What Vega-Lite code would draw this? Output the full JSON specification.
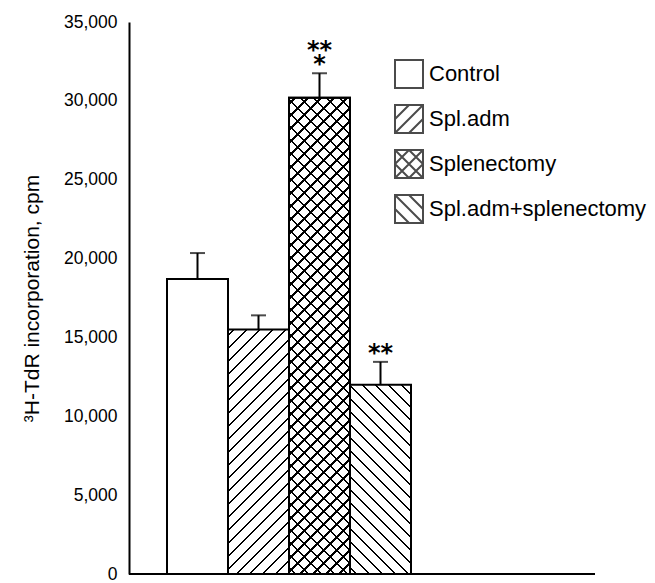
{
"$schema": "https://vega.github.io/schema/vega-lite/v6.json",
"width": 466,
"height": 552,
"autosize": {"type": "none"},
"padding": {"left": 129, "top": 22, "right": 60, "bottom": 9},
"background": "white",
"config": {"view": {"stroke": null}, "font": "Liberation Sans"},
"data": {"values": [
  {"group": "Control", "value": 18700, "hi": 20350, "sig": ""},
  {"group": "Spl.adm", "value": 15500, "hi": 16400, "sig": ""},
  {"group": "Splenectomy", "value": 30200, "hi": 31750, "sig": "**\n*"},
  {"group": "Spl.adm+splenectomy", "value": 12000, "hi": 13450, "sig": "\n**"}
]},
"encoding": {
  "y": {"field": "value", "type": "quantitative",
    "scale": {"domain": [0, 35000], "nice": false},
    "axis": {"title": "³H-TdR incorporation, cpm", "values": [0, 5000, 10000, 15000, 20000, 25000, 30000, 35000], "format": ",d", "ticks": false, "grid": false, "domainColor": "black", "domainWidth": 2, "labelFont": "Liberation Sans", "labelFontSize": 17.5, "labelColor": "black", "labelPadding": 12, "titleFont": "Liberation Sans", "titleFontSize": 21, "titleFontWeight": "normal", "titleColor": "black", "titlePadding": 21}}
},
"layer": [
  {"transform": [{"filter": "datum.group === 'Control'"}],
   "mark": {"type": "bar", "fill": "white", "stroke": "black", "strokeWidth": 2},
   "encoding": {"x": {"field": "group", "type": "nominal",
    "scale": {"domain": ["Control", "Spl.adm", "Splenectomy", "Spl.adm+splenectomy"], "range": [38, 282], "paddingInner": 0, "paddingOuter": 0},
    "axis": null}}},
  {"transform": [{"filter": "datum.group === 'Spl.adm'"}],
   "encoding": {"x": {"field": "group", "type": "nominal"}},
   "mark": {"type": "bar", "stroke": "black", "strokeWidth": 2,
    "fill": {"gradient": "linear", "x1": 0, "y1": 0, "x2": 0.2998, "y2": 1.2015, "stops": [
{"offset":0.0167,"color":"#fff"},{"offset":0.0167,"color":"#000"},{"offset":0.0238,"color":"#000"},{"offset":0.0238,"color":"#fff"},
{"offset":0.0583,"color":"#fff"},{"offset":0.0583,"color":"#000"},{"offset":0.0654,"color":"#000"},{"offset":0.0654,"color":"#fff"},
{"offset":0.1,"color":"#fff"},{"offset":0.1,"color":"#000"},{"offset":0.1071,"color":"#000"},{"offset":0.1071,"color":"#fff"},
{"offset":0.1417,"color":"#fff"},{"offset":0.1417,"color":"#000"},{"offset":0.1488,"color":"#000"},{"offset":0.1488,"color":"#fff"},
{"offset":0.1833,"color":"#fff"},{"offset":0.1833,"color":"#000"},{"offset":0.1904,"color":"#000"},{"offset":0.1904,"color":"#fff"},
{"offset":0.225,"color":"#fff"},{"offset":0.225,"color":"#000"},{"offset":0.2321,"color":"#000"},{"offset":0.2321,"color":"#fff"},
{"offset":0.2667,"color":"#fff"},{"offset":0.2667,"color":"#000"},{"offset":0.2738,"color":"#000"},{"offset":0.2738,"color":"#fff"},
{"offset":0.3083,"color":"#fff"},{"offset":0.3083,"color":"#000"},{"offset":0.3154,"color":"#000"},{"offset":0.3154,"color":"#fff"},
{"offset":0.35,"color":"#fff"},{"offset":0.35,"color":"#000"},{"offset":0.3571,"color":"#000"},{"offset":0.3571,"color":"#fff"},
{"offset":0.3917,"color":"#fff"},{"offset":0.3917,"color":"#000"},{"offset":0.3988,"color":"#000"},{"offset":0.3988,"color":"#fff"},
{"offset":0.4333,"color":"#fff"},{"offset":0.4333,"color":"#000"},{"offset":0.4404,"color":"#000"},{"offset":0.4404,"color":"#fff"},
{"offset":0.475,"color":"#fff"},{"offset":0.475,"color":"#000"},{"offset":0.4821,"color":"#000"},{"offset":0.4821,"color":"#fff"},
{"offset":0.5167,"color":"#fff"},{"offset":0.5167,"color":"#000"},{"offset":0.5238,"color":"#000"},{"offset":0.5238,"color":"#fff"},
{"offset":0.5583,"color":"#fff"},{"offset":0.5583,"color":"#000"},{"offset":0.5654,"color":"#000"},{"offset":0.5654,"color":"#fff"},
{"offset":0.6,"color":"#fff"},{"offset":0.6,"color":"#000"},{"offset":0.6071,"color":"#000"},{"offset":0.6071,"color":"#fff"},
{"offset":0.6417,"color":"#fff"},{"offset":0.6417,"color":"#000"},{"offset":0.6488,"color":"#000"},{"offset":0.6488,"color":"#fff"},
{"offset":0.6833,"color":"#fff"},{"offset":0.6833,"color":"#000"},{"offset":0.6904,"color":"#000"},{"offset":0.6904,"color":"#fff"},
{"offset":0.725,"color":"#fff"},{"offset":0.725,"color":"#000"},{"offset":0.7321,"color":"#000"},{"offset":0.7321,"color":"#fff"},
{"offset":0.7667,"color":"#fff"},{"offset":0.7667,"color":"#000"},{"offset":0.7738,"color":"#000"},{"offset":0.7738,"color":"#fff"},
{"offset":0.8083,"color":"#fff"},{"offset":0.8083,"color":"#000"},{"offset":0.8154,"color":"#000"},{"offset":0.8154,"color":"#fff"},
{"offset":0.85,"color":"#fff"},{"offset":0.85,"color":"#000"},{"offset":0.8571,"color":"#000"},{"offset":0.8571,"color":"#fff"},
{"offset":0.8917,"color":"#fff"},{"offset":0.8917,"color":"#000"},{"offset":0.8988,"color":"#000"},{"offset":0.8988,"color":"#fff"},
{"offset":0.9333,"color":"#fff"},{"offset":0.9333,"color":"#000"},{"offset":0.9404,"color":"#000"},{"offset":0.9404,"color":"#fff"},
{"offset":0.975,"color":"#fff"},{"offset":0.975,"color":"#000"},{"offset":0.9821,"color":"#000"},{"offset":0.9821,"color":"#fff"}
    ]}}},
  {"transform": [{"filter": "datum.group === 'Splenectomy'"}],
   "encoding": {"x": {"field": "group", "type": "nominal"}},
   "mark": {"type": "bar", "stroke": "black", "strokeWidth": 2,
    "fill": {"gradient": "linear", "x1": 0, "y1": 0, "x2": 0.14445, "y2": 1.12786, "stops": [
{"offset":0.0095,"color":"#fff"},{"offset":0.0095,"color":"#000"},{"offset":0.0136,"color":"#000"},{"offset":0.0136,"color":"#fff"},
{"offset":0.0333,"color":"#fff"},{"offset":0.0333,"color":"#000"},{"offset":0.0374,"color":"#000"},{"offset":0.0374,"color":"#fff"},
{"offset":0.0571,"color":"#fff"},{"offset":0.0571,"color":"#000"},{"offset":0.0612,"color":"#000"},{"offset":0.0612,"color":"#fff"},
{"offset":0.081,"color":"#fff"},{"offset":0.081,"color":"#000"},{"offset":0.085,"color":"#000"},{"offset":0.085,"color":"#fff"},
{"offset":0.1048,"color":"#fff"},{"offset":0.1048,"color":"#000"},{"offset":0.1088,"color":"#000"},{"offset":0.1088,"color":"#fff"},
{"offset":0.1286,"color":"#fff"},{"offset":0.1286,"color":"#000"},{"offset":0.1326,"color":"#000"},{"offset":0.1326,"color":"#fff"},
{"offset":0.1524,"color":"#fff"},{"offset":0.1524,"color":"#000"},{"offset":0.1564,"color":"#000"},{"offset":0.1564,"color":"#fff"},
{"offset":0.1762,"color":"#fff"},{"offset":0.1762,"color":"#000"},{"offset":0.1802,"color":"#000"},{"offset":0.1802,"color":"#fff"},
{"offset":0.2,"color":"#fff"},{"offset":0.2,"color":"#000"},{"offset":0.204,"color":"#000"},{"offset":0.204,"color":"#fff"},
{"offset":0.2238,"color":"#fff"},{"offset":0.2238,"color":"#000"},{"offset":0.2279,"color":"#000"},{"offset":0.2279,"color":"#fff"},
{"offset":0.2476,"color":"#fff"},{"offset":0.2476,"color":"#000"},{"offset":0.2517,"color":"#000"},{"offset":0.2517,"color":"#fff"},
{"offset":0.2714,"color":"#fff"},{"offset":0.2714,"color":"#000"},{"offset":0.2755,"color":"#000"},{"offset":0.2755,"color":"#fff"},
{"offset":0.2952,"color":"#fff"},{"offset":0.2952,"color":"#000"},{"offset":0.2993,"color":"#000"},{"offset":0.2993,"color":"#fff"},
{"offset":0.319,"color":"#fff"},{"offset":0.319,"color":"#000"},{"offset":0.3231,"color":"#000"},{"offset":0.3231,"color":"#fff"},
{"offset":0.3429,"color":"#fff"},{"offset":0.3429,"color":"#000"},{"offset":0.3469,"color":"#000"},{"offset":0.3469,"color":"#fff"},
{"offset":0.3667,"color":"#fff"},{"offset":0.3667,"color":"#000"},{"offset":0.3707,"color":"#000"},{"offset":0.3707,"color":"#fff"},
{"offset":0.3905,"color":"#fff"},{"offset":0.3905,"color":"#000"},{"offset":0.3945,"color":"#000"},{"offset":0.3945,"color":"#fff"},
{"offset":0.4143,"color":"#fff"},{"offset":0.4143,"color":"#000"},{"offset":0.4183,"color":"#000"},{"offset":0.4183,"color":"#fff"},
{"offset":0.4381,"color":"#fff"},{"offset":0.4381,"color":"#000"},{"offset":0.4421,"color":"#000"},{"offset":0.4421,"color":"#fff"},
{"offset":0.4619,"color":"#fff"},{"offset":0.4619,"color":"#000"},{"offset":0.466,"color":"#000"},{"offset":0.466,"color":"#fff"},
{"offset":0.4857,"color":"#fff"},{"offset":0.4857,"color":"#000"},{"offset":0.4898,"color":"#000"},{"offset":0.4898,"color":"#fff"},
{"offset":0.5095,"color":"#fff"},{"offset":0.5095,"color":"#000"},{"offset":0.5136,"color":"#000"},{"offset":0.5136,"color":"#fff"},
{"offset":0.5333,"color":"#fff"},{"offset":0.5333,"color":"#000"},{"offset":0.5374,"color":"#000"},{"offset":0.5374,"color":"#fff"},
{"offset":0.5571,"color":"#fff"},{"offset":0.5571,"color":"#000"},{"offset":0.5612,"color":"#000"},{"offset":0.5612,"color":"#fff"},
{"offset":0.581,"color":"#fff"},{"offset":0.581,"color":"#000"},{"offset":0.585,"color":"#000"},{"offset":0.585,"color":"#fff"},
{"offset":0.6048,"color":"#fff"},{"offset":0.6048,"color":"#000"},{"offset":0.6088,"color":"#000"},{"offset":0.6088,"color":"#fff"},
{"offset":0.6286,"color":"#fff"},{"offset":0.6286,"color":"#000"},{"offset":0.6326,"color":"#000"},{"offset":0.6326,"color":"#fff"},
{"offset":0.6524,"color":"#fff"},{"offset":0.6524,"color":"#000"},{"offset":0.6564,"color":"#000"},{"offset":0.6564,"color":"#fff"},
{"offset":0.6762,"color":"#fff"},{"offset":0.6762,"color":"#000"},{"offset":0.6802,"color":"#000"},{"offset":0.6802,"color":"#fff"},
{"offset":0.7,"color":"#fff"},{"offset":0.7,"color":"#000"},{"offset":0.704,"color":"#000"},{"offset":0.704,"color":"#fff"},
{"offset":0.7238,"color":"#fff"},{"offset":0.7238,"color":"#000"},{"offset":0.7279,"color":"#000"},{"offset":0.7279,"color":"#fff"},
{"offset":0.7476,"color":"#fff"},{"offset":0.7476,"color":"#000"},{"offset":0.7517,"color":"#000"},{"offset":0.7517,"color":"#fff"},
{"offset":0.7714,"color":"#fff"},{"offset":0.7714,"color":"#000"},{"offset":0.7755,"color":"#000"},{"offset":0.7755,"color":"#fff"},
{"offset":0.7952,"color":"#fff"},{"offset":0.7952,"color":"#000"},{"offset":0.7993,"color":"#000"},{"offset":0.7993,"color":"#fff"},
{"offset":0.819,"color":"#fff"},{"offset":0.819,"color":"#000"},{"offset":0.8231,"color":"#000"},{"offset":0.8231,"color":"#fff"},
{"offset":0.8429,"color":"#fff"},{"offset":0.8429,"color":"#000"},{"offset":0.8469,"color":"#000"},{"offset":0.8469,"color":"#fff"},
{"offset":0.8667,"color":"#fff"},{"offset":0.8667,"color":"#000"},{"offset":0.8707,"color":"#000"},{"offset":0.8707,"color":"#fff"},
{"offset":0.8905,"color":"#fff"},{"offset":0.8905,"color":"#000"},{"offset":0.8945,"color":"#000"},{"offset":0.8945,"color":"#fff"},
{"offset":0.9143,"color":"#fff"},{"offset":0.9143,"color":"#000"},{"offset":0.9183,"color":"#000"},{"offset":0.9183,"color":"#fff"},
{"offset":0.9381,"color":"#fff"},{"offset":0.9381,"color":"#000"},{"offset":0.9421,"color":"#000"},{"offset":0.9421,"color":"#fff"},
{"offset":0.9619,"color":"#fff"},{"offset":0.9619,"color":"#000"},{"offset":0.966,"color":"#000"},{"offset":0.966,"color":"#fff"},
{"offset":0.9857,"color":"#fff"},{"offset":0.9857,"color":"#000"},{"offset":0.9898,"color":"#000"},{"offset":0.9898,"color":"#fff"}
    ]}}},
  {"transform": [{"filter": "datum.group === 'Splenectomy'"}],
   "encoding": {"x": {"field": "group", "type": "nominal"}},
   "mark": {"type": "bar", "stroke": "black", "strokeWidth": 2,
    "fill": {"gradient": "linear", "x1": 0, "y1": 1, "x2": 0.14445, "y2": -0.12786, "stops": [
{"offset":0.0095,"color":"rgba(0,0,0,0)"},{"offset":0.0095,"color":"#000"},{"offset":0.0136,"color":"#000"},{"offset":0.0136,"color":"rgba(0,0,0,0)"},
{"offset":0.0333,"color":"rgba(0,0,0,0)"},{"offset":0.0333,"color":"#000"},{"offset":0.0374,"color":"#000"},{"offset":0.0374,"color":"rgba(0,0,0,0)"},
{"offset":0.0571,"color":"rgba(0,0,0,0)"},{"offset":0.0571,"color":"#000"},{"offset":0.0612,"color":"#000"},{"offset":0.0612,"color":"rgba(0,0,0,0)"},
{"offset":0.081,"color":"rgba(0,0,0,0)"},{"offset":0.081,"color":"#000"},{"offset":0.085,"color":"#000"},{"offset":0.085,"color":"rgba(0,0,0,0)"},
{"offset":0.1048,"color":"rgba(0,0,0,0)"},{"offset":0.1048,"color":"#000"},{"offset":0.1088,"color":"#000"},{"offset":0.1088,"color":"rgba(0,0,0,0)"},
{"offset":0.1286,"color":"rgba(0,0,0,0)"},{"offset":0.1286,"color":"#000"},{"offset":0.1326,"color":"#000"},{"offset":0.1326,"color":"rgba(0,0,0,0)"},
{"offset":0.1524,"color":"rgba(0,0,0,0)"},{"offset":0.1524,"color":"#000"},{"offset":0.1564,"color":"#000"},{"offset":0.1564,"color":"rgba(0,0,0,0)"},
{"offset":0.1762,"color":"rgba(0,0,0,0)"},{"offset":0.1762,"color":"#000"},{"offset":0.1802,"color":"#000"},{"offset":0.1802,"color":"rgba(0,0,0,0)"},
{"offset":0.2,"color":"rgba(0,0,0,0)"},{"offset":0.2,"color":"#000"},{"offset":0.204,"color":"#000"},{"offset":0.204,"color":"rgba(0,0,0,0)"},
{"offset":0.2238,"color":"rgba(0,0,0,0)"},{"offset":0.2238,"color":"#000"},{"offset":0.2279,"color":"#000"},{"offset":0.2279,"color":"rgba(0,0,0,0)"},
{"offset":0.2476,"color":"rgba(0,0,0,0)"},{"offset":0.2476,"color":"#000"},{"offset":0.2517,"color":"#000"},{"offset":0.2517,"color":"rgba(0,0,0,0)"},
{"offset":0.2714,"color":"rgba(0,0,0,0)"},{"offset":0.2714,"color":"#000"},{"offset":0.2755,"color":"#000"},{"offset":0.2755,"color":"rgba(0,0,0,0)"},
{"offset":0.2952,"color":"rgba(0,0,0,0)"},{"offset":0.2952,"color":"#000"},{"offset":0.2993,"color":"#000"},{"offset":0.2993,"color":"rgba(0,0,0,0)"},
{"offset":0.319,"color":"rgba(0,0,0,0)"},{"offset":0.319,"color":"#000"},{"offset":0.3231,"color":"#000"},{"offset":0.3231,"color":"rgba(0,0,0,0)"},
{"offset":0.3429,"color":"rgba(0,0,0,0)"},{"offset":0.3429,"color":"#000"},{"offset":0.3469,"color":"#000"},{"offset":0.3469,"color":"rgba(0,0,0,0)"},
{"offset":0.3667,"color":"rgba(0,0,0,0)"},{"offset":0.3667,"color":"#000"},{"offset":0.3707,"color":"#000"},{"offset":0.3707,"color":"rgba(0,0,0,0)"},
{"offset":0.3905,"color":"rgba(0,0,0,0)"},{"offset":0.3905,"color":"#000"},{"offset":0.3945,"color":"#000"},{"offset":0.3945,"color":"rgba(0,0,0,0)"},
{"offset":0.4143,"color":"rgba(0,0,0,0)"},{"offset":0.4143,"color":"#000"},{"offset":0.4183,"color":"#000"},{"offset":0.4183,"color":"rgba(0,0,0,0)"},
{"offset":0.4381,"color":"rgba(0,0,0,0)"},{"offset":0.4381,"color":"#000"},{"offset":0.4421,"color":"#000"},{"offset":0.4421,"color":"rgba(0,0,0,0)"},
{"offset":0.4619,"color":"rgba(0,0,0,0)"},{"offset":0.4619,"color":"#000"},{"offset":0.466,"color":"#000"},{"offset":0.466,"color":"rgba(0,0,0,0)"},
{"offset":0.4857,"color":"rgba(0,0,0,0)"},{"offset":0.4857,"color":"#000"},{"offset":0.4898,"color":"#000"},{"offset":0.4898,"color":"rgba(0,0,0,0)"},
{"offset":0.5095,"color":"rgba(0,0,0,0)"},{"offset":0.5095,"color":"#000"},{"offset":0.5136,"color":"#000"},{"offset":0.5136,"color":"rgba(0,0,0,0)"},
{"offset":0.5333,"color":"rgba(0,0,0,0)"},{"offset":0.5333,"color":"#000"},{"offset":0.5374,"color":"#000"},{"offset":0.5374,"color":"rgba(0,0,0,0)"},
{"offset":0.5571,"color":"rgba(0,0,0,0)"},{"offset":0.5571,"color":"#000"},{"offset":0.5612,"color":"#000"},{"offset":0.5612,"color":"rgba(0,0,0,0)"},
{"offset":0.581,"color":"rgba(0,0,0,0)"},{"offset":0.581,"color":"#000"},{"offset":0.585,"color":"#000"},{"offset":0.585,"color":"rgba(0,0,0,0)"},
{"offset":0.6048,"color":"rgba(0,0,0,0)"},{"offset":0.6048,"color":"#000"},{"offset":0.6088,"color":"#000"},{"offset":0.6088,"color":"rgba(0,0,0,0)"},
{"offset":0.6286,"color":"rgba(0,0,0,0)"},{"offset":0.6286,"color":"#000"},{"offset":0.6326,"color":"#000"},{"offset":0.6326,"color":"rgba(0,0,0,0)"},
{"offset":0.6524,"color":"rgba(0,0,0,0)"},{"offset":0.6524,"color":"#000"},{"offset":0.6564,"color":"#000"},{"offset":0.6564,"color":"rgba(0,0,0,0)"},
{"offset":0.6762,"color":"rgba(0,0,0,0)"},{"offset":0.6762,"color":"#000"},{"offset":0.6802,"color":"#000"},{"offset":0.6802,"color":"rgba(0,0,0,0)"},
{"offset":0.7,"color":"rgba(0,0,0,0)"},{"offset":0.7,"color":"#000"},{"offset":0.704,"color":"#000"},{"offset":0.704,"color":"rgba(0,0,0,0)"},
{"offset":0.7238,"color":"rgba(0,0,0,0)"},{"offset":0.7238,"color":"#000"},{"offset":0.7279,"color":"#000"},{"offset":0.7279,"color":"rgba(0,0,0,0)"},
{"offset":0.7476,"color":"rgba(0,0,0,0)"},{"offset":0.7476,"color":"#000"},{"offset":0.7517,"color":"#000"},{"offset":0.7517,"color":"rgba(0,0,0,0)"},
{"offset":0.7714,"color":"rgba(0,0,0,0)"},{"offset":0.7714,"color":"#000"},{"offset":0.7755,"color":"#000"},{"offset":0.7755,"color":"rgba(0,0,0,0)"},
{"offset":0.7952,"color":"rgba(0,0,0,0)"},{"offset":0.7952,"color":"#000"},{"offset":0.7993,"color":"#000"},{"offset":0.7993,"color":"rgba(0,0,0,0)"},
{"offset":0.819,"color":"rgba(0,0,0,0)"},{"offset":0.819,"color":"#000"},{"offset":0.8231,"color":"#000"},{"offset":0.8231,"color":"rgba(0,0,0,0)"},
{"offset":0.8429,"color":"rgba(0,0,0,0)"},{"offset":0.8429,"color":"#000"},{"offset":0.8469,"color":"#000"},{"offset":0.8469,"color":"rgba(0,0,0,0)"},
{"offset":0.8667,"color":"rgba(0,0,0,0)"},{"offset":0.8667,"color":"#000"},{"offset":0.8707,"color":"#000"},{"offset":0.8707,"color":"rgba(0,0,0,0)"},
{"offset":0.8905,"color":"rgba(0,0,0,0)"},{"offset":0.8905,"color":"#000"},{"offset":0.8945,"color":"#000"},{"offset":0.8945,"color":"rgba(0,0,0,0)"},
{"offset":0.9143,"color":"rgba(0,0,0,0)"},{"offset":0.9143,"color":"#000"},{"offset":0.9183,"color":"#000"},{"offset":0.9183,"color":"rgba(0,0,0,0)"},
{"offset":0.9381,"color":"rgba(0,0,0,0)"},{"offset":0.9381,"color":"#000"},{"offset":0.9421,"color":"#000"},{"offset":0.9421,"color":"rgba(0,0,0,0)"},
{"offset":0.9619,"color":"rgba(0,0,0,0)"},{"offset":0.9619,"color":"#000"},{"offset":0.966,"color":"#000"},{"offset":0.966,"color":"rgba(0,0,0,0)"},
{"offset":0.9857,"color":"rgba(0,0,0,0)"},{"offset":0.9857,"color":"#000"},{"offset":0.9898,"color":"#000"},{"offset":0.9898,"color":"rgba(0,0,0,0)"}
    ]}}},
  {"transform": [{"filter": "datum.group === 'Spl.adm+splenectomy'"}],
   "encoding": {"x": {"field": "group", "type": "nominal"}},
   "mark": {"type": "bar", "stroke": "black", "strokeWidth": 2,
    "fill": {"gradient": "linear", "x1": 0, "y1": 1, "x2": 0.40112, "y2": -0.24451, "stops": [
{"offset":0.02,"color":"#fff"},{"offset":0.02,"color":"#000"},{"offset":0.0285,"color":"#000"},{"offset":0.0285,"color":"#fff"},
{"offset":0.07,"color":"#fff"},{"offset":0.07,"color":"#000"},{"offset":0.0785,"color":"#000"},{"offset":0.0785,"color":"#fff"},
{"offset":0.12,"color":"#fff"},{"offset":0.12,"color":"#000"},{"offset":0.1285,"color":"#000"},{"offset":0.1285,"color":"#fff"},
{"offset":0.17,"color":"#fff"},{"offset":0.17,"color":"#000"},{"offset":0.1785,"color":"#000"},{"offset":0.1785,"color":"#fff"},
{"offset":0.22,"color":"#fff"},{"offset":0.22,"color":"#000"},{"offset":0.2285,"color":"#000"},{"offset":0.2285,"color":"#fff"},
{"offset":0.27,"color":"#fff"},{"offset":0.27,"color":"#000"},{"offset":0.2785,"color":"#000"},{"offset":0.2785,"color":"#fff"},
{"offset":0.32,"color":"#fff"},{"offset":0.32,"color":"#000"},{"offset":0.3285,"color":"#000"},{"offset":0.3285,"color":"#fff"},
{"offset":0.37,"color":"#fff"},{"offset":0.37,"color":"#000"},{"offset":0.3785,"color":"#000"},{"offset":0.3785,"color":"#fff"},
{"offset":0.42,"color":"#fff"},{"offset":0.42,"color":"#000"},{"offset":0.4285,"color":"#000"},{"offset":0.4285,"color":"#fff"},
{"offset":0.47,"color":"#fff"},{"offset":0.47,"color":"#000"},{"offset":0.4785,"color":"#000"},{"offset":0.4785,"color":"#fff"},
{"offset":0.52,"color":"#fff"},{"offset":0.52,"color":"#000"},{"offset":0.5285,"color":"#000"},{"offset":0.5285,"color":"#fff"},
{"offset":0.57,"color":"#fff"},{"offset":0.57,"color":"#000"},{"offset":0.5785,"color":"#000"},{"offset":0.5785,"color":"#fff"},
{"offset":0.62,"color":"#fff"},{"offset":0.62,"color":"#000"},{"offset":0.6285,"color":"#000"},{"offset":0.6285,"color":"#fff"},
{"offset":0.67,"color":"#fff"},{"offset":0.67,"color":"#000"},{"offset":0.6785,"color":"#000"},{"offset":0.6785,"color":"#fff"},
{"offset":0.72,"color":"#fff"},{"offset":0.72,"color":"#000"},{"offset":0.7285,"color":"#000"},{"offset":0.7285,"color":"#fff"},
{"offset":0.77,"color":"#fff"},{"offset":0.77,"color":"#000"},{"offset":0.7785,"color":"#000"},{"offset":0.7785,"color":"#fff"},
{"offset":0.82,"color":"#fff"},{"offset":0.82,"color":"#000"},{"offset":0.8285,"color":"#000"},{"offset":0.8285,"color":"#fff"},
{"offset":0.87,"color":"#fff"},{"offset":0.87,"color":"#000"},{"offset":0.8785,"color":"#000"},{"offset":0.8785,"color":"#fff"},
{"offset":0.92,"color":"#fff"},{"offset":0.92,"color":"#000"},{"offset":0.9285,"color":"#000"},{"offset":0.9285,"color":"#fff"},
{"offset":0.97,"color":"#fff"},{"offset":0.97,"color":"#000"},{"offset":0.9785,"color":"#000"},{"offset":0.9785,"color":"#fff"}
    ]}}},
  {"mark": {"type": "rule", "color": "black", "strokeWidth": 2},
   "encoding": {"y": {"datum": 0}}},
  {"mark": {"type": "rule", "color": "black", "strokeWidth": 2},
   "encoding": {"x": {"field": "group", "type": "nominal"}, "y2": {"field": "hi"}}},
  {"mark": {"type": "tick", "orient": "horizontal", "color": "black", "size": 15, "thickness": 2},
   "encoding": {"x": {"field": "group", "type": "nominal"}, "y": {"field": "hi", "type": "quantitative"}}},
  {"transform": [{"filter": "datum.sig !== ''"}],
   "mark": {"type": "text", "font": "DejaVu Sans", "fontSize": 24, "fontWeight": "bold", "baseline": "bottom", "dy": -10, "lineBreak": "\n", "lineHeight": 14, "color": "black"},
   "encoding": {"x": {"field": "group", "type": "nominal"}, "y": {"field": "hi", "type": "quantitative"}, "text": {"field": "sig"}}},
  {"transform": [{"filter": "false"}],
   "mark": {"type": "point", "filled": false, "color": "black", "strokeWidth": 2},
   "encoding": {"shape": {"field": "group", "type": "nominal",
     "scale": {"domain": ["Control", "Spl.adm", "Splenectomy", "Spl.adm+splenectomy"],
       "range": ["M-1,-1H1V1H-1Z", "M-1,-1H1V1H-1ZM-1,0L0,-1M-1,1L1,-1M0,1L1,0", "M-1,-1H1V1H-1ZM-1,0L0,-1M-1,1L1,-1M0,1L1,0M-1,0L0,1M-1,-1L1,1M0,-1L1,0", "M-1,-1H1V1H-1ZM-1,0L0,1M-1,-1L1,1M0,-1L1,0"]},
     "legend": {"title": null, "orient": "none", "legendX": 265, "legendY": 37, "padding": 0, "symbolSize": 784, "symbolStrokeWidth": 2, "symbolStrokeColor": "black", "labelFont": "Liberation Sans", "labelFontSize": 22, "labelColor": "black", "labelLimit": 300, "labelOffset": 5, "rowPadding": 9}}}}
]
}
